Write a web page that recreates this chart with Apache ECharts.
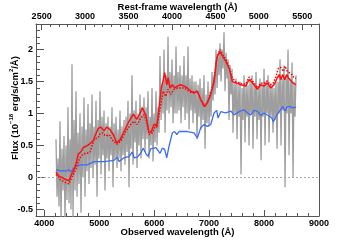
<!DOCTYPE html>
<html><head><meta charset="utf-8">
<script src="https://cdn.jsdelivr.net/npm/echarts@6/dist/echarts.min.js"></script>
<style>html,body{margin:0;padding:0;background:#fff}#c{width:355px;height:240px}</style>
</head><body><div id="c"></div>
<script>
// ---- tick values ----
const obsTicks = [4000, 5000, 6000, 7000, 8000, 9000];
const obsMinor = [4000,4200,4400,4600,4800,5000,5200,5400,5600,5800,6000,6200,6400,6600,6800,7000,7200,7400,7600,7800,8000,8200,8400,8600,8800,9000];
const restTicks = [2500, 3000, 3500, 4000, 4500, 5000, 5500];
const restMinor = [2500,2600,2700,2800,2900,3000,3100,3200,3300,3400,3500,3600,3700,3800,3900,4000,4100,4200,4300,4400,4500,4600,4700,4800,4900,5000,5100,5200,5300,5400,5500,5600];
const fluxTicks = [-0.5, 0, 0.5, 1, 1.5, 2];
const fluxMinor = [-0.6,-0.5,-0.4,-0.3,-0.2,-0.1,0,0.1,0.2,0.3,0.4,0.5,0.6,0.7,0.8,0.9,1,1.1,1.2,1.3,1.4,1.5,1.6,1.7,1.8,1.9,2,2.1,2.2,2.3,2.4];
const onePlusZ = 1.581;
const obsMin = 3850, obsMax = 9000;
const fluxMin = -0.6, fluxMax = 2.4;

// ---- observed spectrum (grey, noisy): regular wavelength grid ----
const grayStart = 4214, grayStep = 18.2;
const grayFlux = [
0.6,-0.3,0.3,-0.45, 0.88,-0.7,0.45,-0.2, 0.65,-0.7,0.5,-0.35, 1.1,-0.4,0.6,-0.5,
1.77,-0.65,0.9,-0.2, 1.35,-0.3,0.7,-0.1, 1.0,-0.55,0.8,0.0, 1.25,-0.3,0.75,0.1,
1.15,-0.1,0.85,0.15, 1.3,0.0,0.8,0.2, 1.2,-0.3,0.9,0.3, 1.35,0.05,0.95,0.35,
1.05,-0.2,0.85,0.3, 0.95,0.1,0.8,0.35, 1.1,-0.15,0.85,0.3, 0.95,0.15,0.75,0.3,
1.05,0.1,0.8,0.35, 0.9,0.2,0.95,0.4, 1.2,-0.15,1.0,0.45, 1.6,0.2,1.05,0.55,
1.2,0.15,1.0,0.5, 1.3,0.3,1.1,0.6, 1.25,0.4,1.1,0.6, 1.35,0.3,0.95,0.5,
1.4,0.25,1.0,0.55, 1.35,0.5,1.1,0.7, 1.9,0.9,1.45,1.0, 2.0,0.7,1.6,1.05,
2.2,1.0,1.65,1.1, 1.85,0.85,1.6,1.0, 2.05,1.0,1.65,1.05, 1.75,0.85,1.6,1.1,
1.9,0.9,1.6,1.0, 2.05,0.75,1.55,1.05, 1.6,0.85,1.5,1.0, 1.5,0.6,1.45,0.95,
1.55,0.75,1.4,0.9, 1.6,0.45,1.3,0.85, 1.5,0.8,1.35,0.95, 1.65,1.2,1.6,1.3,
2.0,1.4,1.9,1.6, 2.1,1.5,2.0,1.7, 2.27,1.35,1.95,1.55, 1.85,0.9,1.75,1.3,
1.7,0.7,1.5,1.0, 1.55,0.6,1.45,0.95, 1.5,0.05,1.4,0.9, 1.6,0.55,1.45,0.95,
1.45,0.5,1.5,1.0, 1.6,0.45,1.45,0.95, 1.65,0.6,1.4,0.9, 1.55,0.27,1.45,0.95,
1.7,0.5,1.5,1.0, 1.6,0.55,1.45,0.95, 1.45,0.7,1.4,0.9, 1.5,0.45,1.5,1.0,
1.85,0.5,1.55,1.05, 1.75,-0.15,1.6,1.0, 2.0,0.35,1.55,1.0, 1.8,0.0,1.5,0.95,
1.6
];

// ---- blue model [wavelength, flux] ----
const blueData = [
[4214,0.125],[4250,0.15],[4300,0.10],[4347,0.11],[4396,0.10],[4445,0.125],[4482,0.09],[4529,0.14],[4578,0.18],[4664,0.20],
[4784,0.20],[4906,0.25],[5088,0.25],[5270,0.27],[5330,0.32],[5361,0.25],[5452,0.31],[5543,0.33],[5603,0.40],[5634,0.31],
[5694,0.32],[5755,0.38],[5803,0.46],[5847,0.38],[5888,0.33],[5938,0.45],[6034,0.47],[6058,0.46],[6107,0.38],[6149,0.46],
[6192,0.44],[6229,0.31],[6271,0.49],[6331,0.70],[6374,0.72],[6411,0.67],[6453,0.72],[6484,0.75],[6604,0.72],[6726,0.70],
[6786,0.62],[6848,0.78],[6908,0.83],[6968,0.80],[7030,0.83],[7090,1.01],[7139,1.05],[7162,0.93],[7212,1.03],[7303,1.01],
[7394,1.04],[7454,0.98],[7545,1.03],[7636,1.06],[7696,1.01],[7758,0.98],[7818,1.05],[7878,1.04],[7940,0.97],[8000,1.01],
[8072,0.97],[8140,0.93],[8169,0.87],[8218,0.96],[8260,1.01],[8291,0.98],[8340,1.11],[8382,1.04],[8424,1.11],[8473,1.11],
[8522,1.09],[8582,1.10]
];

// ---- red model (solid) ----
const redData = [
[4214,0.09],[4269,0.02],[4329,0.0],[4391,-0.03],[4451,-0.05],[4500,0.06],[4529,0.10],[4573,0.20],[4620,0.37],[4664,0.40],
[4711,0.47],[4784,0.50],[4833,0.53],[4893,0.58],[4924,0.65],[4984,0.77],[5028,0.79],[5088,0.73],[5137,0.79],[5197,0.75],
[5257,0.67],[5319,0.54],[5379,0.59],[5452,0.72],[5543,0.88],[5621,0.99],[5683,0.91],[5730,0.98],[5785,1.09],[5847,0.98],
[5907,0.70],[5948,0.72],[5998,0.83],[6016,0.86],[6052,0.83],[6089,1.09],[6130,1.40],[6167,1.53],[6192,1.64],[6229,1.45],
[6252,1.56],[6289,1.40],[6331,1.45],[6374,1.40],[6422,1.43],[6484,1.45],[6544,1.43],[6604,1.40],[6666,1.35],[6726,1.32],
[6786,1.35],[6848,1.22],[6920,1.11],[6968,1.17],[7030,1.30],[7090,1.50],[7126,1.77],[7150,1.90],[7199,1.97],[7241,1.90],
[7303,1.82],[7363,1.71],[7423,1.50],[7485,1.48],[7576,1.45],[7667,1.43],[7727,1.53],[7768,1.50],[7818,1.45],[7878,1.38],
[7909,1.40],[7940,1.45],[8000,1.43],[8060,1.48],[8122,1.40],[8182,1.45],[8200,1.48],[8242,1.56],[8279,1.61],[8304,1.53],
[8340,1.61],[8376,1.53],[8413,1.61],[8442,1.56],[8473,1.53],[8522,1.48],[8582,1.45]
];

// ---- red model (dotted) ----
const redDotData = [
[4214,0.05],[4269,-0.02],[4329,-0.05],[4391,-0.08],[4451,-0.10],[4500,0.0],[4529,0.05],[4573,0.12],[4620,0.25],[4664,0.33],
[4711,0.37],[4784,0.38],[4833,0.40],[4906,0.59],[4984,0.63],[4996,0.67],[5057,0.70],[5119,0.65],[5179,0.67],[5239,0.59],
[5319,0.52],[5392,0.57],[5483,0.72],[5574,0.83],[5634,0.88],[5694,0.83],[5755,0.93],[5816,0.98],[5865,0.88],[5907,0.67],
[5967,0.70],[6034,0.83],[6046,0.78],[6089,0.98],[6130,1.19],[6167,1.35],[6209,1.27],[6252,1.38],[6301,1.30],[6362,1.38],
[6422,1.40],[6544,1.40],[6666,1.33],[6786,1.35],[6848,1.22],[6908,1.11],[6968,1.17],[7030,1.33],[7090,1.52],[7126,1.80],
[7162,1.93],[7199,2.00],[7241,1.93],[7303,1.85],[7363,1.74],[7423,1.55],[7485,1.50],[7576,1.47],[7667,1.46],[7727,1.57],
[7780,1.52],[7818,1.48],[7878,1.40],[7940,1.48],[8000,1.47],[8060,1.51],[8109,1.45],[8169,1.48],[8218,1.58],[8260,1.71],
[8304,1.72],[8352,1.66],[8382,1.74],[8424,1.66],[8461,1.64],[8506,1.61],[8548,1.56],[8582,1.55]
];

const grayData = grayFlux.map((f, k) => [grayStart + grayStep * k, f]);

const FONT = "'Liberation Sans', Arial, sans-serif";
const axisColor = '#555';
const lblStyle = {color:'#000', fontSize:9, fontWeight:'bold', fontFamily:FONT};
const nameStyle = {color:'#000', fontSize:9.5, fontWeight:'bold', fontFamily:FONT};

function majorX(pos, min, max, ticks, name, gap, len) {
  return {
    type:'value', position:pos, min:min, max:max,
    axisLine:{show:true, onZero:false, lineStyle:{color:axisColor, width:1}},
    axisTick:{show:true, inside:true, length:len, customValues:ticks, lineStyle:{color:axisColor}},
    axisLabel:{show:true, customValues:ticks, margin:3, formatter:v=>String(v), ...lblStyle},
    splitLine:{show:false},
    name:name, nameLocation:'middle', nameGap:gap, nameMoveOverlap:false, nameTextStyle:nameStyle
  };
}
function minorAxis(pos, min, max, ticks, len) {
  return {
    type:'value', position:pos, min:min, max:max,
    axisLine:{show:false, onZero:false},
    axisTick:{show:true, inside:true, length:len, customValues:ticks, lineStyle:{color:axisColor}},
    axisLabel:{show:false}, splitLine:{show:false}
  };
}

const chart = echarts.init(document.getElementById('c'), null, {renderer:'canvas'});
chart.setOption({
  animation:false,
  backgroundColor:'#fff',
  grid:{left:36, right:36, top:24, bottom:24, outerBoundsMode:'none', containLabel:false},
  xAxis:[
    majorX('bottom', obsMin, obsMax, obsTicks, 'Observed wavelength (Å)', 11, 6),
    majorX('top', obsMin/onePlusZ, obsMax/onePlusZ, restTicks, 'Rest-frame wavelength (Å)', 12, 6),
    minorAxis('bottom', obsMin, obsMax, obsMinor, 3),
    minorAxis('top', obsMin/onePlusZ, obsMax/onePlusZ, restMinor, 3)
  ],
  yAxis:[
    {
      type:'value', position:'left', min:fluxMin, max:fluxMax,
      axisLine:{show:true, onZero:false, lineStyle:{color:axisColor}},
      axisTick:{show:true, inside:true, length:8, customValues:fluxTicks, lineStyle:{color:axisColor}},
      axisLabel:{show:true, customValues:fluxTicks, margin:3, formatter:v=>String(v), ...lblStyle},
      splitLine:{show:false}
    },
    minorAxis('left', fluxMin, fluxMax, fluxMinor, 4),
    {
      type:'value', position:'right', min:fluxMin, max:fluxMax,
      axisLine:{show:true, onZero:false, lineStyle:{color:axisColor}},
      axisTick:{show:false}, axisLabel:{show:false}, splitLine:{show:false}
    }
  ],
  graphic:[{
    type:'text', x:14, y:108, rotation:Math.PI/2,
    style:{
      text:'{n|Flux (10}{s|−18}{n| erg/s/cm}{s|2}{n|/Å)}',
      align:'center', verticalAlign:'middle',
      rich:{
        n:{fontSize:9.5, fontWeight:'bold', fontFamily:FONT, fill:'#000', lineHeight:12, verticalAlign:'bottom'},
        s:{fontSize:6, fontWeight:'bold', fontFamily:FONT, fill:'#000', lineHeight:12, verticalAlign:'top'}
      }
    }
  }],
  series:[
    {
      type:'line', xAxisIndex:0, yAxisIndex:0, data:grayData, showSymbol:false, z:1,
      lineStyle:{color:'#9e9e9e', width:1.3}, clip:true,
      markLine:{silent:true, symbol:'none', label:{show:false},
        lineStyle:{color:'#a8a8a8', type:[2,2], width:1}, data:[{yAxis:0}]}
    },
    {type:'line', xAxisIndex:0, yAxisIndex:0, data:blueData, showSymbol:false, z:3,
      lineStyle:{color:'#3d6cf5', width:1.3}},
    {type:'line', xAxisIndex:0, yAxisIndex:0, data:redDotData, showSymbol:false, z:4,
      lineStyle:{color:'#ff0000', width:1.5, type:[1.5,1.5]}},
    {type:'line', xAxisIndex:0, yAxisIndex:0, data:redData, showSymbol:false, z:5,
      lineStyle:{color:'#ff1010', width:1.5}}
  ]
});
</script></body></html>
